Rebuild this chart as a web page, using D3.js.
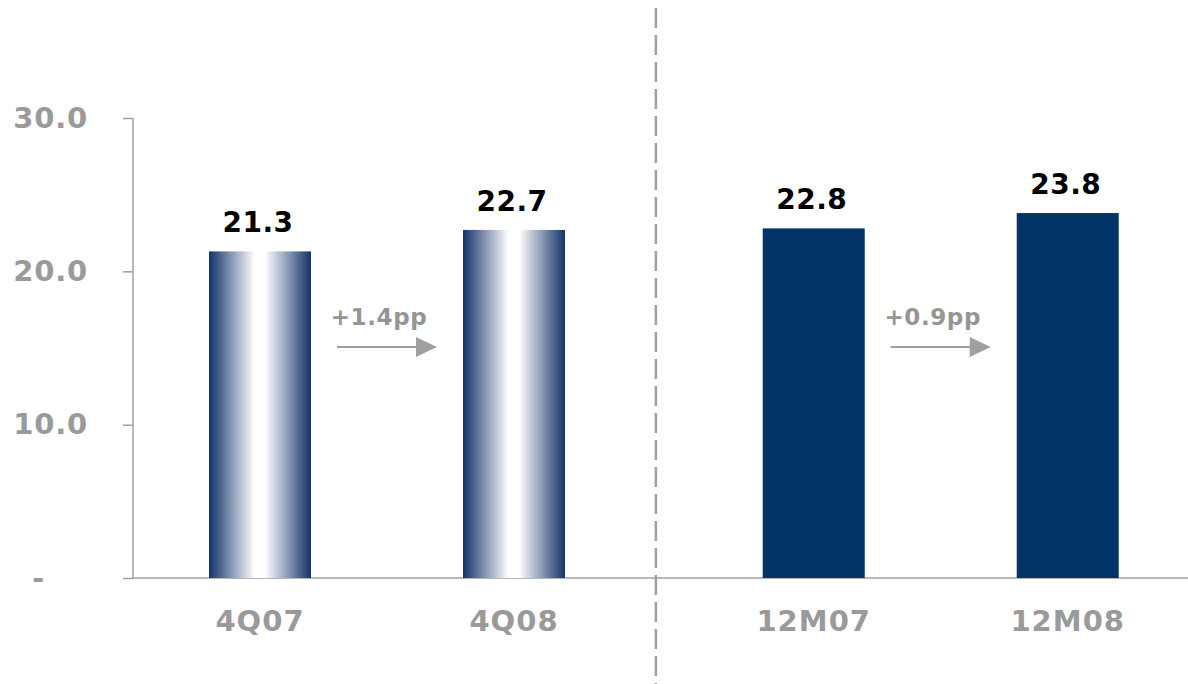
<!DOCTYPE html>
<html lang="en">
  <head>
    <meta charset="utf-8">
    <title>Bar chart 4Q / 12M</title>
    <style>
      body { margin: 0; background: #fff; }
      svg text { font-family: "DejaVu Sans", Verdana, sans-serif; font-weight: bold; }
      .axis path, .axis line { stroke: #a0a0a0; stroke-width: 1.5px; }
      .axis text { fill: #9a9a9a; font-size: 29px; letter-spacing: 0.8px; }
    </style>
  </head>
  <body>
<script src="https://cdn.jsdelivr.net/npm/d3@7/dist/d3.min.js"></script>
<script>

// data
const categories = ["4Q07", "4Q08", "12M07", "12M08"]
const values = [21.3, 22.7, 22.8, 23.8]
const styles = ["gradient", "gradient", "solid", "solid"]
const yTicks = [0, 10, 20, 30]
const changes = [
  { from: "4Q07", to: "4Q08", label: "+1.4pp" },
  { from: "12M07", to: "12M08", label: "+0.9pp" }
]

const width = 1188, height = 684
const margin = { top: 118, right: 0, bottom: 106, left: 133 }

const svg = d3.select("body").append("svg")
    .attr("width", width)
    .attr("height", height)

// gradient used by the quarter bars
const grad = svg.append("defs").append("linearGradient")
    .attr("id", "barGrad")
    .attr("x1", "0%").attr("x2", "100%").attr("y1", "0%").attr("y2", "0%")
grad.append("stop").attr("offset", "0%").attr("stop-color", "#14336a")
grad.append("stop").attr("offset", "45%").attr("stop-color", "#ffffff")
grad.append("stop").attr("offset", "55%").attr("stop-color", "#ffffff")
grad.append("stop").attr("offset", "100%").attr("stop-color", "#14336a")

const y = d3.scaleLinear()
    .domain([0, 30])
    .range([height - margin.bottom, margin.top])

// two groups of bars with a wider gap between them (divider sits there)
const slot = d3.scaleLinear().domain([0, 1]).range([260, 514])
const slotIndex = { "4Q07": 0, "4Q08": 1, "12M07": 2.18, "12M08": 3.18 }
const xc = c => slot(slotIndex[c])
const barW = 102

// y axis
const yAxis = d3.axisLeft(y)
    .tickValues(yTicks)
    .tickSize(10)
    .tickPadding(35)
    .tickFormat(d => d === 0 ? "-" : d3.format(".1f")(d))

const gy = svg.append("g")
    .attr("class", "axis")
    .attr("transform", `translate(${margin.left},0)`)
    .call(yAxis)
gy.select(".domain").attr("d", `M0,${y(30)}V${y(0)}`)
gy.selectAll(".tick text").filter(d => d === 0).attr("dx", -43)

// x axis baseline
svg.append("line")
    .attr("x1", margin.left).attr("x2", width - margin.right)
    .attr("y1", y(0)).attr("y2", y(0))
    .attr("stroke", "#a0a0a0").attr("stroke-width", 1.5)

// bars
svg.selectAll("rect.bar")
    .data(categories)
    .enter().append("rect")
    .attr("class", "bar")
    .attr("x", d => xc(d) - barW / 2)
    .attr("width", barW)
    .attr("y", (d, i) => y(values[i]))
    .attr("height", (d, i) => y(0) - y(values[i]))
    .attr("fill", (d, i) => styles[i] === "gradient" ? "url(#barGrad)" : "#003366")

// value labels
svg.selectAll("text.val")
    .data(categories)
    .enter().append("text")
    .attr("class", "val")
    .attr("x", d => xc(d) - 2)
    .attr("y", (d, i) => y(values[i]) - 19)
    .attr("text-anchor", "middle")
    .attr("font-size", 28)
    .attr("letter-spacing", 0.5)
    .attr("fill", "#000")
    .text((d, i) => values[i].toFixed(1))

// category labels
svg.selectAll("text.cat")
    .data(categories)
    .enter().append("text")
    .attr("class", "cat")
    .attr("x", d => xc(d))
    .attr("y", 631)
    .attr("text-anchor", "middle")
    .attr("font-size", 29)
    .attr("letter-spacing", 1)
    .attr("fill", "#9a9a9a")
    .text(d => d)

// dashed divider between the two groups
const divX = (xc("4Q08") + xc("12M07")) / 2 - 8
svg.append("line")
    .attr("x1", divX).attr("x2", divX)
    .attr("y1", 8).attr("y2", height)
    .attr("stroke", "#a0a0a0")
    .attr("stroke-width", 2.5)
    .attr("stroke-dasharray", "20,7")

// change arrows
const arrowY = 347
changes.forEach(c => {
    const mid = (xc(c.from) + xc(c.to)) / 2
    const x0 = mid - 50, x1 = mid + 50
    svg.append("line")
        .attr("x1", x0).attr("x2", x1 - 20)
        .attr("y1", arrowY).attr("y2", arrowY)
        .attr("stroke", "#a0a0a0").attr("stroke-width", 2)
    svg.append("path")
        .attr("d", `M${x1 - 21},${arrowY - 10}L${x1},${arrowY}L${x1 - 21},${arrowY + 10}Z`)
        .attr("fill", "#a0a0a0")
    svg.append("text")
        .attr("x", mid - 8)
        .attr("y", 325)
        .attr("text-anchor", "middle")
        .attr("font-size", 23)
        .attr("letter-spacing", 0.6)
        .attr("fill", "#959595")
        .text(c.label)
})

</script>
  </body>
</html>
